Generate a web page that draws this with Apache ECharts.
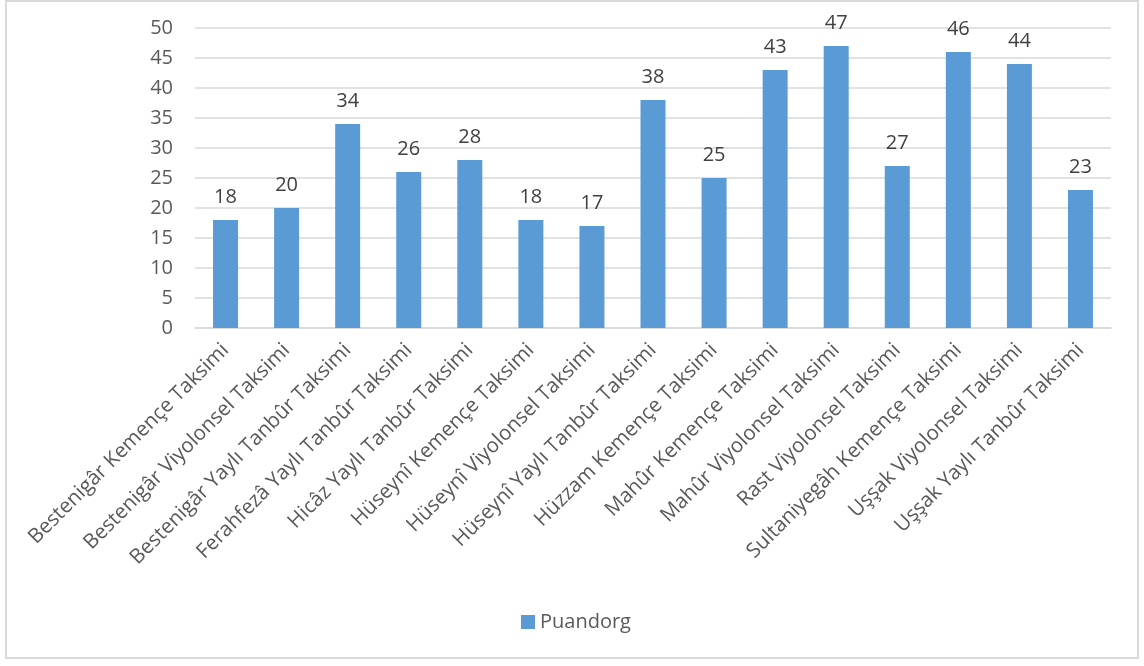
<!DOCTYPE html>
<html>
<head>
<meta charset="utf-8">
<style>
  html, body { margin: 0; padding: 0; background: #fff; }
  #frame { position: absolute; left: 5px; top: 0px; width: 1134px; height: 659px; border: 2px solid #d9d9d9; box-sizing: border-box; }
  #chart { position: absolute; left: 0; top: 0; width: 1144px; height: 666px; }
</style>
<script src="https://cdn.jsdelivr.net/npm/echarts@6/dist/echarts.min.js"></script>
</head>
<body>
<div id="frame"></div>
<div id="chart"></div>
<script>
const categories = [
  'Bestenigâr Kemençe Taksimi',
  'Bestenigâr Viyolonsel Taksimi',
  'Bestenigâr Yaylı Tanbûr Taksimi',
  'Ferahfezâ Yaylı Tanbûr Taksimi',
  'Hicâz Yaylı Tanbûr Taksimi',
  'Hüseynî Kemençe Taksimi',
  'Hüseynî Viyolonsel Taksimi',
  'Hüseynî Yaylı Tanbûr Taksimi',
  'Hüzzam Kemençe Taksimi',
  'Mahûr Kemençe Taksimi',
  'Mahûr Viyolonsel Taksimi',
  'Rast Viyolonsel Taksimi',
  'Sultaniyegâh Kemençe Taksimi',
  'Uşşak Viyolonsel Taksimi',
  'Uşşak Yaylı Tanbûr Taksimi'
];
const seriesName = 'Puandorg';
const puandorg = [18, 20, 34, 26, 28, 18, 17, 38, 25, 43, 47, 27, 46, 44, 23];

const fontFamily = '"Open Sans", sans-serif';
const textColor = '#595959';

const chart = echarts.init(document.getElementById('chart'), null, { renderer: 'canvas' });
chart.setOption({
  animation: false,
  backgroundColor: 'transparent',
  grid: { left: 195, right: 33, top: 28, bottom: 338, containLabel: false },
  legend: {
    bottom: 29,
    left: 516,
    itemWidth: 14,
    itemHeight: 14,
    itemGap: 6,
    icon: 'rect',
    textStyle: { color: textColor, fontSize: 20, fontFamily: fontFamily },
    data: [seriesName]
  },
  xAxis: {
    type: 'category',
    data: categories,
    axisLine: { lineStyle: { color: '#d9d9d9', width: 1.5 } },
    axisTick: { show: false },
    axisLabel: {
      rotate: 45,
      interval: 0,
      margin: 19,
      color: textColor,
      fontSize: 20.5,
      fontFamily: fontFamily
    }
  },
  yAxis: {
    type: 'value',
    min: 0,
    max: 50,
    interval: 5,
    axisLine: { show: false },
    axisTick: { show: false },
    splitLine: { lineStyle: { color: '#d9d9d9', width: 1.5 } },
    axisLabel: { color: textColor, fontSize: 20, fontFamily: fontFamily, margin: 22 }
  },
  series: [{
    name: seriesName,
    type: 'bar',
    data: puandorg,
    barWidth: 25,
    itemStyle: { color: '#5b9bd5' },
    label: {
      show: true,
      position: 'top',
      distance: 13,
      color: '#404040',
      fontSize: 20,
      fontFamily: fontFamily
    }
  }]
});
</script>
</body>
</html>
